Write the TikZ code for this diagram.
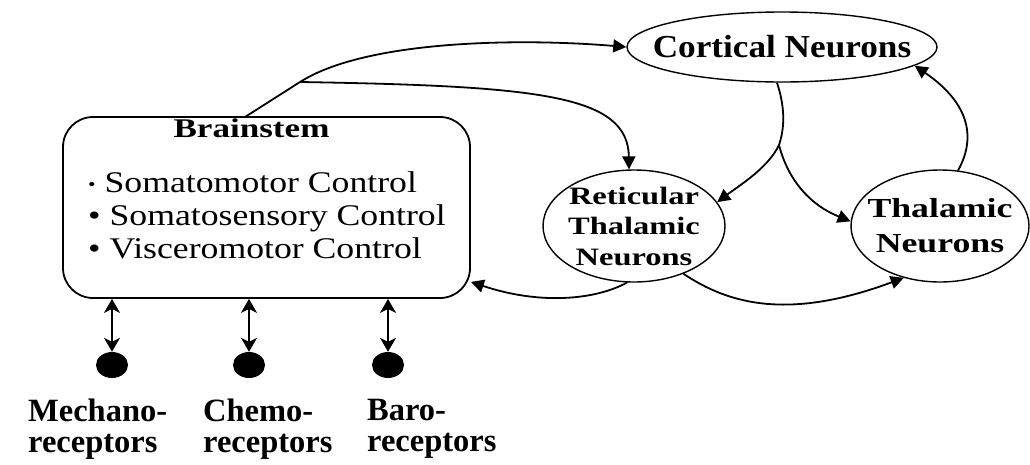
\documentclass[tikz,border=0pt]{standalone}
\usepackage{fontspec}
\setmainfont{Liberation Serif}
\newfontfamily\fcort[FakeStretch=1.1]{Liberation Serif}
\newfontfamily\fwide[FakeStretch=1.3]{Liberation Serif}
\newfontfamily\flist[FakeStretch=1.19]{Liberation Serif}
\usetikzlibrary{arrows.meta,shapes.geometric}
\begin{document}
\begin{tikzpicture}[x=1pt,y=-1pt,
  ell/.style={ellipse, draw, line width=1.4pt, inner sep=0pt},
  conn/.style={line width=1.8pt},
  tip/.style={-{Triangle[length=13pt,width=13pt]}},
  dtip/.style={{Stealth[length=14pt,width=16pt,inset=4pt]}-{Stealth[length=14pt,width=16pt,inset=4pt]}},
  listline/.style={anchor=base west, inner sep=0pt, font=\flist\fontsize{30}{33}\selectfont},
  reclabel/.style={anchor=north west, inner sep=0pt, align=left, font=\bfseries\fontsize{32.5}{31}\selectfont}
]
\useasboundingbox (0,0) rectangle (1030,464);

% Brainstem box
\node[draw, line width=1.8pt, rounded corners=30pt, minimum width=407pt, minimum height=181pt, inner sep=0pt] (brain) at (266.5,207.5) {};
\node[anchor=base, inner sep=0pt, font=\fwide\bfseries\fontsize{27}{30}\selectfont] (brainT) at (251.5,137) {Brainstem};
\node[listline] (l1) at (88,192) {\raisebox{2pt}{\scalebox{0.6}{•}}\ Somatomotor Control};
\node[listline] (l2) at (88,225) {•\ Somatosensory Control};
\node[listline] (l3) at (88,258) {•\ Visceromotor Control};

% Ellipses
\node[ell, minimum width=310pt, minimum height=70pt,
  label={[font=\fcort\bfseries\fontsize{32}{36}\selectfont]center:Cortical Neurons}] (cort) at (782,47) {};
\node[ell, minimum width=182pt, minimum height=112pt,
  label={[align=center, font=\fwide\bfseries\fontsize{25}{30.5}\selectfont]center:Reticular\\Thalamic\\Neurons}] (ret) at (634,226) {};
\node[ell, minimum width=178pt, minimum height=112pt,
  label={[align=center, font=\fwide\bfseries\fontsize{27.5}{35}\selectfont]center:Thalamic\\Neurons}] (thal) at (940,226) {};

% Receptors
\node[ellipse, fill=black, minimum width=32pt, minimum height=26pt, inner sep=0pt] (d1) at (112,365) {};
\node[ellipse, fill=black, minimum width=32pt, minimum height=26pt, inner sep=0pt] (d2) at (249,365) {};
\node[ellipse, fill=black, minimum width=32pt, minimum height=26pt, inner sep=0pt] (d3) at (388,365) {};
\node[reclabel] (r1) at (28,399) {Mechano-\\receptors};
\node[reclabel] (r2) at (203,399) {Chemo-\\receptors};
\node[reclabel] (r3) at (367,399) {Baro-\\receptors};

\draw[conn,dtip] (d1.north |- brain.south) -- (d1.north);
\draw[conn,dtip] (d2.north |- brain.south) -- (d2.north);
\draw[conn,dtip] (d3.north |- brain.south) -- (d3.north);

% Connectors
\coordinate (b1) at (245,117);
\coordinate (br) at (300,82);
\coordinate (sp) at (779,145);
\draw[conn,tip] (b1) -- (br) .. controls (366,40) and (520,38) .. (cort.west);
\draw[conn,tip] (br) .. controls (540,86) and (628,95) .. (ret.95);
\draw[conn] (cort.-98) .. controls (786,110) and (784,130) .. (sp);
\draw[conn,tip] (sp) .. controls (768,168) and (740,185) .. (ret.16);
\draw[conn,tip] (sp) .. controls (788,180) and (810,205) .. (thal.177);
\draw[conn,tip] (ret.-97) .. controls (595,300) and (540,305) .. (brain.-20);
\draw[conn,tip] (ret.-44) .. controls (730,305) and (790,320) .. (thal.-125);
\draw[conn,tip] (thal.72) .. controls (975,140) and (972,105) .. (cort.-8);
\end{tikzpicture}
\end{document}
